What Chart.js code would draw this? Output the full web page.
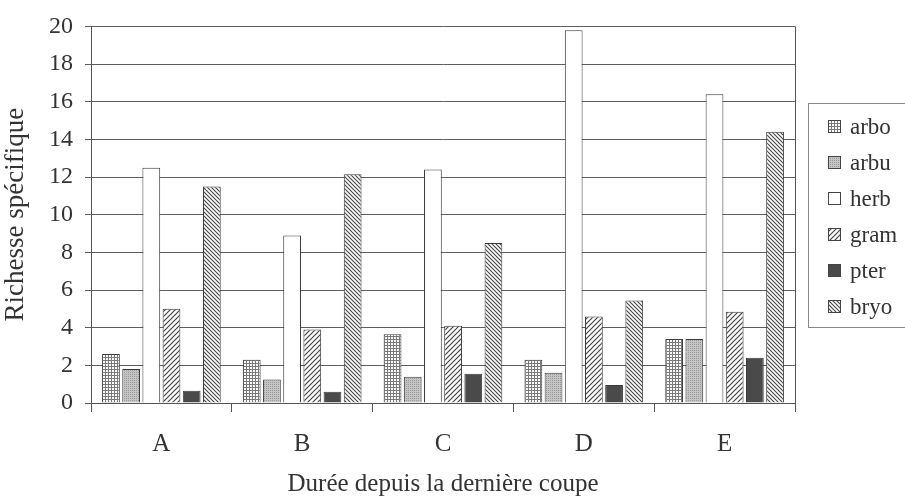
<!DOCTYPE html>
<html lang="fr">
<head>
<meta charset="UTF-8">
<title>Richesse spécifique</title>
<script src="https://cdn.jsdelivr.net/npm/chart.js"></script>
<style>
  html, body { margin: 0; padding: 0; background: #fff; }
  canvas { display: block; }
  .fontprobe { position: absolute; left: -9999px; top: 0; font-family: "Liberation Serif"; font-size: 24px; }
</style>
</head>
<body>
<span class="fontprobe">Richesse spécifique</span>
<canvas id="chart" width="905" height="502"></canvas>
<script>
// Data
const categories = ['A', 'B', 'C', 'D', 'E'];
const groupNames = ['arbo', 'arbu', 'herb', 'gram', 'pter', 'bryo'];
const arbo = [2.6, 2.3, 3.65, 2.3, 3.4];
const arbu = [1.8, 1.25, 1.4, 1.6, 3.4];
const herb = [12.5, 8.9, 12.4, 19.8, 16.4];
const gram = [5.0, 3.9, 4.1, 4.6, 4.85];
const pter = [0.65, 0.6, 1.55, 0.95, 2.4];
const bryo = [11.5, 12.15, 8.5, 5.45, 14.4];
const yTicks = [0, 2, 4, 6, 8, 10, 12, 14, 16, 18, 20];

const FONT = "'Liberation Serif', 'Times New Roman', 'DejaVu Serif', serif";
const TEXT = '#333';

// small tiles used as bar fills
function makePattern(size, draw) {
    const c = document.createElement('canvas');
    c.width = c.height = size;
    const g = c.getContext('2d');
    draw(g, size);
    return g.createPattern(c, 'repeat');
}

const fills = {
    arbo: makePattern(3, (g, s) => {
        g.fillStyle = '#fff'; g.fillRect(0, 0, s, s);
        g.fillStyle = '#7a7a7a';
        g.fillRect(0, 0, s, 1);
        g.fillRect(0, 0, 1, s);
    }),
    arbu: makePattern(2, (g, s) => {
        g.fillStyle = '#c4c4c4'; g.fillRect(0, 0, s, s);
        g.fillStyle = '#9a9a9a'; g.fillRect(0, 0, 1, 1);
    }),
    herb: '#ffffff',
    gram: makePattern(5, (g, s) => {
        g.fillStyle = '#fff'; g.fillRect(0, 0, s, s);
        g.strokeStyle = '#444'; g.lineWidth = 1.2;
        g.beginPath();
        g.moveTo(0, s); g.lineTo(s, 0);
        g.moveTo(-1, 1); g.lineTo(1, -1);
        g.moveTo(s - 1, s + 1); g.lineTo(s + 1, s - 1);
        g.stroke();
    }),
    pter: '#4a4a4a',
    bryo: makePattern(4, (g, s) => {
        g.fillStyle = '#fff'; g.fillRect(0, 0, s, s);
        g.strokeStyle = '#444'; g.lineWidth = 1.1;
        g.beginPath();
        g.moveTo(0, 0); g.lineTo(s, s);
        g.moveTo(-1, s - 1); g.lineTo(1, s + 1);
        g.moveTo(s - 1, -1); g.lineTo(s + 1, 1);
        g.stroke();
    })
};

const series = [arbo, arbu, herb, gram, pter, bryo];

// boxed legend to the right, like the spreadsheet one
const boxLegend = {
    id: 'boxLegend',
    afterDraw(chart) {
        const ctx = chart.ctx;
        const area = chart.chartArea;
        const x0 = area.right + 13;
        const y0 = 103;
        const rowH = 36;
        ctx.save();
        ctx.strokeStyle = '#888';
        ctx.lineWidth = 1;
        ctx.strokeRect(x0 + 0.5, y0 + 0.5, 120, 224);
        ctx.font = '23px ' + FONT;
        ctx.textBaseline = 'middle';
        chart.data.datasets.forEach((ds, i) => {
            const cy = y0 + 24 + i * rowH;
            ctx.fillStyle = ds.backgroundColor;
            ctx.fillRect(x0 + 20, cy - 7, 13, 13);
            ctx.strokeStyle = '#444';
            ctx.strokeRect(x0 + 20.5, cy - 6.5, 12, 12);
            ctx.fillStyle = TEXT;
            ctx.fillText(ds.label, x0 + 42, cy + 1);
        });
        ctx.restore();
    }
};

// right edge of the plot frame
const frameRight = {
    id: 'frameRight',
    afterDatasetsDraw(chart) {
        const { ctx, chartArea } = chart;
        ctx.save();
        ctx.strokeStyle = '#555';
        ctx.lineWidth = 1;
        ctx.beginPath();
        ctx.moveTo(Math.round(chartArea.right) + 0.5, chartArea.top);
        ctx.lineTo(Math.round(chartArea.right) + 0.5, chartArea.bottom);
        ctx.stroke();
        ctx.restore();
    }
};

function drawChart() {
    new Chart(document.getElementById('chart'), {
        type: 'bar',
        data: {
            labels: categories,
            datasets: groupNames.map((name, i) => ({
                label: name,
                data: series[i],
                backgroundColor: fills[name],
                borderColor: '#3a3a3a',
                borderWidth: 1,
                borderSkipped: 'bottom',
                categoryPercentage: 0.86,
                barPercentage: 0.88
            }))
        },
        options: {
            responsive: false,
            animation: false,
            devicePixelRatio: 1,
            layout: { padding: { top: 26, right: 110, left: 0, bottom: 0 } },
            plugins: {
                legend: { display: false },
                tooltip: { enabled: false }
            },
            scales: {
                x: {
                    afterFit(scale) { scale.height = 99; },
                    grid: {
                        drawOnChartArea: false,
                        tickLength: 9,
                        color: '#555'
                    },
                    border: { color: '#555' },
                    ticks: {
                        color: TEXT,
                        font: { family: FONT, size: 25 },
                        padding: 17
                    },
                    title: {
                        display: true,
                        text: 'Durée depuis la dernière coupe',
                        color: TEXT,
                        font: { family: FONT, size: 25 },
                        padding: { top: 0, bottom: 3 }
                    }
                },
                y: {
                    min: 0,
                    max: 20,
                    afterFit(scale) { scale.width = 91; },
                    afterBuildTicks(scale) { scale.ticks = yTicks.map(v => ({ value: v })); },
                    grid: {
                        color: '#5e5e5e',
                        tickLength: 6
                    },
                    border: { color: '#555' },
                    ticks: {
                        color: TEXT,
                        font: { family: FONT, size: 24 },
                        padding: 12
                    },
                    title: {
                        display: true,
                        text: 'Richesse spécifique',
                        color: TEXT,
                        font: { family: FONT, size: 27 },
                        padding: { top: 0, bottom: 0 }
                    }
                }
            }
        },
        plugins: [frameRight, boxLegend]
    });
}

// make sure the serif face is ready before the canvas text is drawn
if (document.fonts && document.fonts.load) {
    document.fonts.load("24px 'Liberation Serif'").then(drawChart, drawChart);
} else {
    drawChart();
}
</script>
</body>
</html>
